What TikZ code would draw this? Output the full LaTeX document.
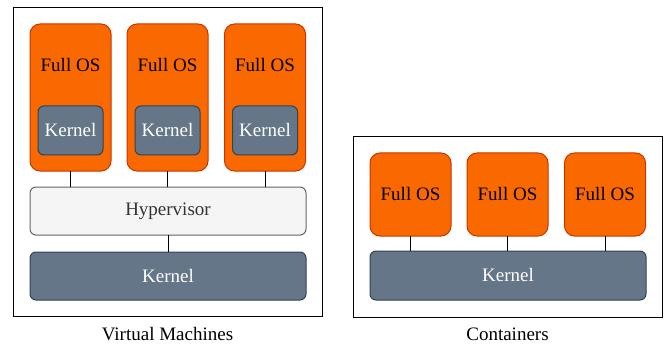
\documentclass[tikz,border=0pt]{standalone}
\usepackage{fontspec}
\setmainfont{Liberation Serif}
\definecolor{osfill}{HTML}{FA6800}
\definecolor{osdraw}{HTML}{C73500}
\definecolor{kfill}{HTML}{647687}
\definecolor{kdraw}{HTML}{314354}
\definecolor{hfill}{HTML}{F5F5F5}
\definecolor{hdraw}{HTML}{666666}
\definecolor{htext}{HTML}{333333}
\begin{document}
\begin{tikzpicture}[x=1pt,y=-1pt,
  every node/.style={font=\fontsize{19}{22}\selectfont, inner sep=0pt, outer sep=0pt},
  osbox/.style={fill=osfill, draw=osdraw, line width=1pt, rounded corners=10pt},
  kbox/.style={fill=kfill, draw=kdraw, line width=1pt, rounded corners=6pt, text=white},
  hbox/.style={fill=hfill, draw=hdraw, line width=1pt, rounded corners=6pt, text=htext},
  frame/.style={draw=black, line width=1pt},
  link/.style={draw=black, line width=1pt}]
\useasboundingbox (0,0) rectangle (665,345);
% frames
\node[frame, minimum width=309pt, minimum height=308pt] (vmframe) at (167.5,162) {};
\node[frame, minimum width=309pt, minimum height=180pt] (ctframe) at (507.5,227) {};
% VM full OS boxes
\foreach \i/\x in {1/70.5,2/167.5,3/265} {
  \node[osbox, minimum width=81pt, minimum height=147pt] (vos\i) at (\x,97.5) {};
  \node at (\x,65) {Full OS};
  \node[kbox, minimum width=65pt, minimum height=49pt] (vk\i) at (\x,130.5) {Kernel};
}
\node[hbox, minimum width=276pt, minimum height=48pt] (hyp) at (168,211) {Hypervisor};
\node[kbox, minimum width=276pt, minimum height=48pt] (vkern) at (168,276) {Kernel};
\foreach \i in {1,2,3} { \draw[link] (vos\i.south) -- (vos\i.south |- hyp.north); }
\draw[link] (hyp.south) -- (vkern.north);
\node (vmlabel) at (167.5,334.5) {Virtual Machines};
% Containers
\foreach \i/\x in {1/410.5,2/507.5,3/605} {
  \node[osbox, minimum width=81pt, minimum height=83pt] (cos\i) at (\x,194.5) {Full OS};
}
\node[kbox, minimum width=276pt, minimum height=49pt] (ckern) at (508,275.5) {Kernel};
\foreach \i in {1,2,3} { \draw[link] (cos\i.south) -- (cos\i.south |- ckern.north); }
\node (ctlabel) at (507.5,334.5) {Containers};
\end{tikzpicture}
\end{document}
